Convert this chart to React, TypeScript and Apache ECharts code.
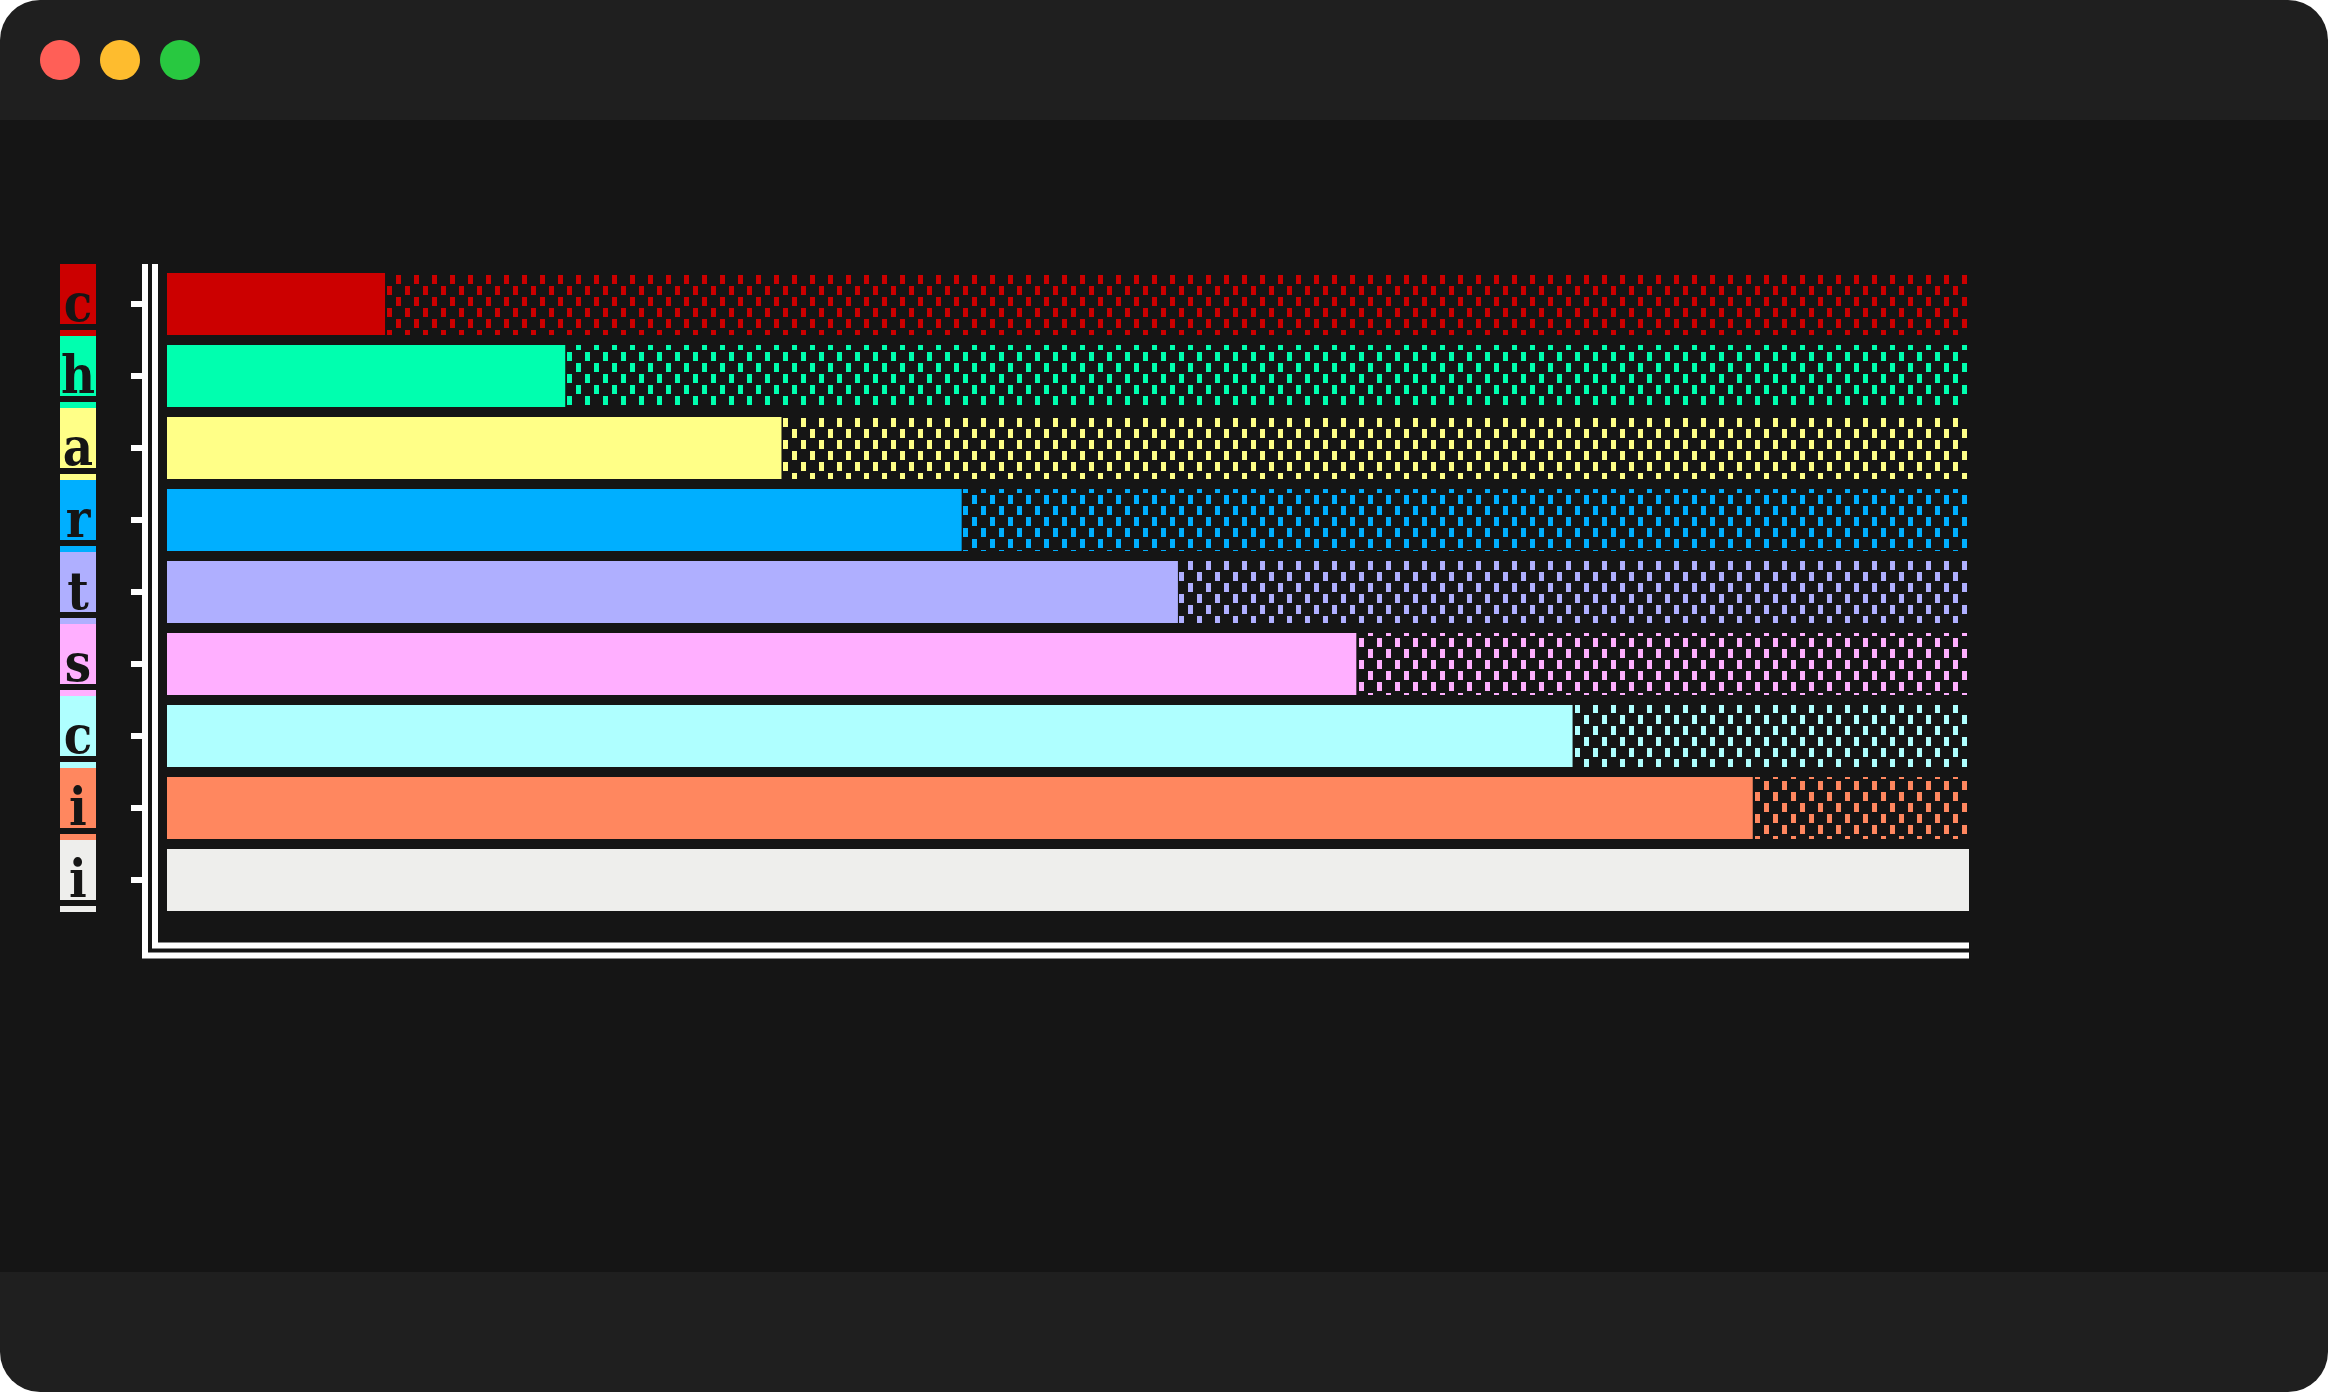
import React, { useEffect, useRef } from "react";
import * as echarts from "echarts";

const LABELS = ["c", "h", "a", "r", "t", "s", "c", "i", "i"];
const VALUES = [12.1, 22.1, 34.1, 44.1, 56.1, 66.0, 78.0, 88.0, 100];
const MAX = 100;
const COLORS = [
  "#cc0000",
  "#00ffaf",
  "#ffff87",
  "#00afff",
  "#afafff",
  "#ffafff",
  "#afffff",
  "#ff875f",
  "#eeeeec",
];

const W = 2328;
const H = 1392;
const BG = "#151515";
const CHROME = "#1f1f1f";

export default function App() {
  const ref = useRef<HTMLDivElement>(null);

  useEffect(() => {
    if (!ref.current) return;
    const chart = echarts.init(ref.current, null, { renderer: "svg" });

    const rich: Record<string, any> = {};
    COLORS.forEach((c, i) => {
      rich["L" + i] = {
        width: 36,
        height: 44,
        padding: [16, 0, 0, 0],
        lineHeight: 60,
        align: "center",
        backgroundColor: c,
        color: BG,
        fontFamily: "'DejaVu Serif Condensed', 'DejaVu Serif', serif",
        fontWeight: "bold",
        fontSize: 52,
      };
      rich["U" + i] = {
        width: 36,
        height: 6,
        lineHeight: 12,
        verticalAlign: "bottom",
        backgroundColor: c,
      };
    });

    const option: any = {
      animation: false,
      backgroundColor: "#ffffff",
      graphic: [
        {
          type: "rect",
          z: 0,
          silent: true,
          shape: { x: 0, y: 0, width: W, height: H, r: 40 },
          style: { fill: CHROME },
        },
        {
          type: "rect",
          z: 0,
          silent: true,
          shape: { x: 0, y: 120, width: W, height: 1152 },
          style: { fill: BG },
        },
        {
          type: "circle",
          z: 1,
          silent: true,
          shape: { cx: 60, cy: 60, r: 20 },
          style: { fill: "#ff5f57" },
        },
        {
          type: "circle",
          z: 1,
          silent: true,
          shape: { cx: 120, cy: 60, r: 20 },
          style: { fill: "#febc2e" },
        },
        {
          type: "circle",
          z: 1,
          silent: true,
          shape: { cx: 180, cy: 60, r: 20 },
          style: { fill: "#28c840" },
        },
        {
          type: "polyline",
          z: 5,
          silent: true,
          shape: {
            points: [
              [145, 264],
              [145, 955.5],
              [1969, 955.5],
            ],
          },
          style: { stroke: "#ffffff", lineWidth: 6, fill: null, lineJoin: "miter" },
        },
        {
          type: "polyline",
          z: 5,
          silent: true,
          shape: {
            points: [
              [155, 264],
              [155, 945.5],
              [1969, 945.5],
            ],
          },
          style: { stroke: "#ffffff", lineWidth: 6, fill: null, lineJoin: "miter" },
        },
      ],
      grid: { left: 167, right: W - 1969, top: 268, height: 648, containLabel: false },
      xAxis: { type: "value", min: 0, max: MAX, show: false },
      yAxis: {
        type: "category",
        data: LABELS,
        inverse: true,
        position: "left",
        offset: 22,
        axisLine: { show: false, onZero: false },
        splitLine: { show: false },
        axisTick: {
          show: true,
          inside: false,
          interval: 0,
          alignWithLabel: true,
          length: 14,
          lineStyle: { color: "#ffffff", width: 6 },
        },
        axisLabel: {
          interval: 0,
          margin: 49,
          padding: [0, 0, 8, 0],
          formatter: (v: string, i: number) => `{L${i}|${v}}\n{U${i}|}`,
          rich,
        },
      },
      series: [
        {
          name: "track",
          type: "bar",
          barWidth: 62,
          barGap: "-100%",
          silent: true,
          data: LABELS.map((_, i) => ({
            value: MAX,
            itemStyle: {
              color: BG,
              decal: {
                symbol: "rect",
                symbolSize: 1,
                symbolKeepAspect: false,
                color: COLORS[i],
                dashArrayX: [
                  [5, 13],
                  [0, 9, 5, 4],
                ],
                dashArrayY: [9, 2],
                rotation: 0,
              },
            },
          })),
        },
        {
          name: "value",
          type: "bar",
          barWidth: 62,
          barGap: "-100%",
          data: VALUES.map((v, i) => ({ value: v, itemStyle: { color: COLORS[i] } })),
        },
      ],
    };

    chart.setOption(option);
    return () => chart.dispose();
  }, []);

  return (
    <div
      ref={ref}
      style={{ position: "fixed", left: 0, top: 0, width: W, height: H }}
    />
  );
}
